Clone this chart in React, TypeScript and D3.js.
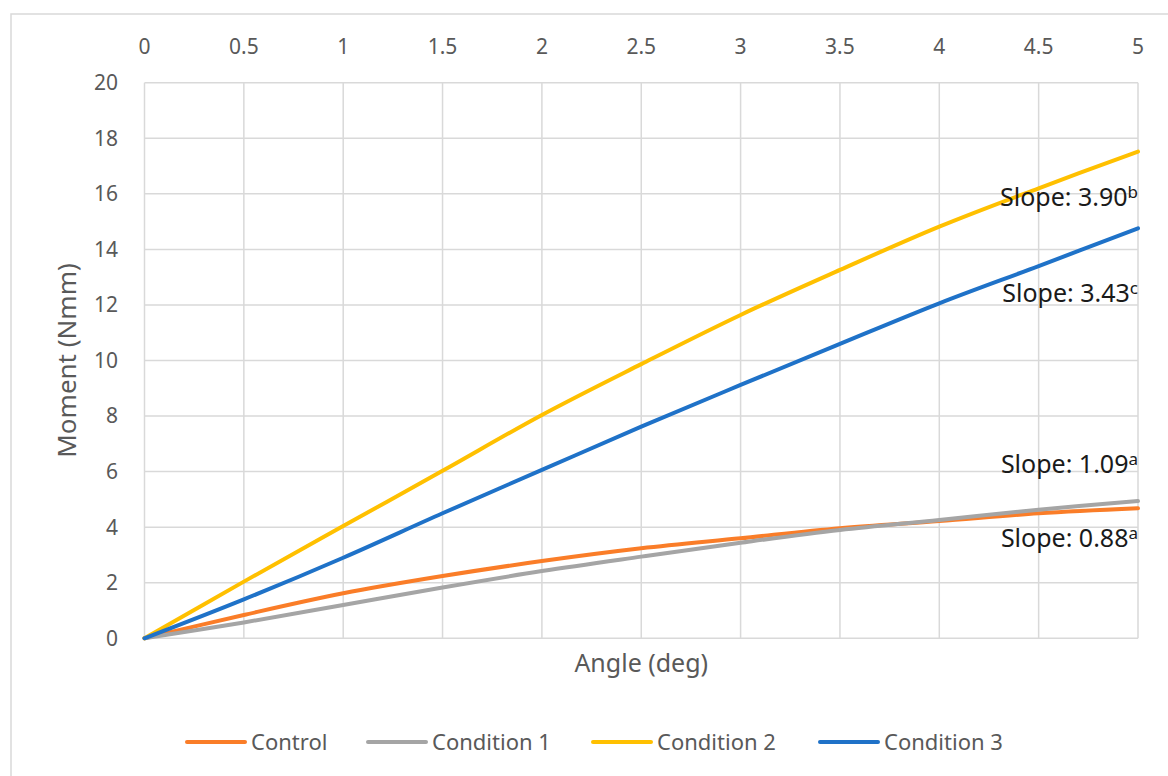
import React from "react";
import * as d3 from "d3";

const angles = [0, 0.5, 1, 1.5, 2, 2.5, 3, 3.5, 4, 4.5, 5];
const control = [0, 0.84, 1.62, 2.24, 2.78, 3.24, 3.6, 3.96, 4.22, 4.5, 4.68];
const condition1 = [0, 0.57, 1.2, 1.83, 2.42, 2.94, 3.44, 3.9, 4.26, 4.63, 4.94];
const condition2 = [0, 2.04, 4.04, 6.03, 8.04, 9.87, 11.64, 13.26, 14.82, 16.2, 17.52];
const condition3 = [0, 1.4, 2.9, 4.5, 6.06, 7.62, 9.12, 10.6, 12.06, 13.4, 14.76];

const seriesNames = ["Control", "Condition 1", "Condition 2", "Condition 3"];
const seriesValues = [control, condition1, condition2, condition3];
const seriesColors = ["#FA7D28", "#A5A5A5", "#FFC000", "#1F72C8"];

const xTicks = [0, 0.5, 1, 1.5, 2, 2.5, 3, 3.5, 4, 4.5, 5];
const yTicks = [0, 2, 4, 6, 8, 10, 12, 14, 16, 18, 20];

const slopeTexts = ["Slope: 3.90", "Slope: 3.43", "Slope: 1.09", "Slope: 0.88"];
const slopeSups = ["b", "c", "a", "a"];
const slopeAnchorY = [15.55, 12.1, 5.95, 3.3];

const W = 1168;
const H = 776;
const FONT = "'Noto Sans', 'Open Sans', sans-serif";

export default function App() {
  const x = d3.scaleLinear().domain([0, 5]).range([144.5, 1138]);
  const y = d3.scaleLinear().domain([0, 20]).range([638.3, 82.7]);
  const line = d3
    .line<[number, number]>()
    .x((d) => x(d[0]))
    .y((d) => y(d[1]))
    .curve(d3.curveCatmullRom.alpha(0.5));

  const legendX = [187, 368, 593, 820];
  const legendY = 742;

  return (
    <svg
      width={W}
      height={H}
      style={{ position: "absolute", left: 0, top: 0, background: "#fff" }}
      fontFamily={FONT}
    >
      <rect x={0} y={0} width={W} height={H} fill="#fff" />
      {/* outer frame */}
      <rect x={11} y={14} width={W + 20} height={H + 20} fill="none" stroke="#D9D9D9" strokeWidth={1.5} />

      {/* gridlines */}
      {xTicks.map((t) => (
        <line key={"gx" + t} x1={x(t)} x2={x(t)} y1={y(0)} y2={y(20)} stroke="#D9D9D9" strokeWidth={1.5} />
      ))}
      {yTicks.map((t) => (
        <line key={"gy" + t} x1={x(0)} x2={x(5)} y1={y(t)} y2={y(t)} stroke="#D9D9D9" strokeWidth={1.5} />
      ))}

      {/* x tick labels (top) */}
      {xTicks.map((t) => (
        <text key={"tx" + t} x={x(t)} y={54} textAnchor="middle" fontSize={21} fill="#595959">
          {String(t)}
        </text>
      ))}
      {/* y tick labels */}
      {yTicks.map((t) => (
        <text key={"ty" + t} x={118} y={y(t)} dy="0.35em" textAnchor="end" fontSize={21} fill="#595959">
          {String(t)}
        </text>
      ))}

      {/* axis titles */}
      <text x={x(2.5)} y={672} textAnchor="middle" fontSize={25} fill="#595959">
        Angle (deg)
      </text>
      <text
        transform={`translate(76, ${(y(0) + y(20)) / 2}) rotate(-90)`}
        textAnchor="middle"
        fontSize={26}
        fill="#595959"
      >
        Moment (Nmm)
      </text>

      {/* series */}
      {seriesValues.map((vals, i) => (
        <path
          key={seriesNames[i]}
          d={line(angles.map((a, j) => [a, vals[j]] as [number, number])) || ""}
          fill="none"
          stroke={seriesColors[i]}
          strokeWidth={4}
          strokeLinecap="round"
        />
      ))}

      {/* slope annotations */}
      {slopeTexts.map((s, i) => (
        <text key={"sl" + i} x={x(5)} y={y(slopeAnchorY[i])} textAnchor="end" fontSize={25} fill="#1a1a1a">
          {s}
          <tspan fontSize={17} dy={-8}>
            {slopeSups[i]}
          </tspan>
        </text>
      ))}

      {/* legend */}
      {seriesNames.map((n, i) => (
        <g key={"lg" + i}>
          <line
            x1={legendX[i]}
            x2={legendX[i] + 58}
            y1={legendY}
            y2={legendY}
            stroke={seriesColors[i]}
            strokeWidth={4}
            strokeLinecap="round"
          />
          <text x={legendX[i] + 64} y={legendY} dy="0.35em" fontSize={22} fill="#595959">
            {n}
          </text>
        </g>
      ))}
    </svg>
  );
}
